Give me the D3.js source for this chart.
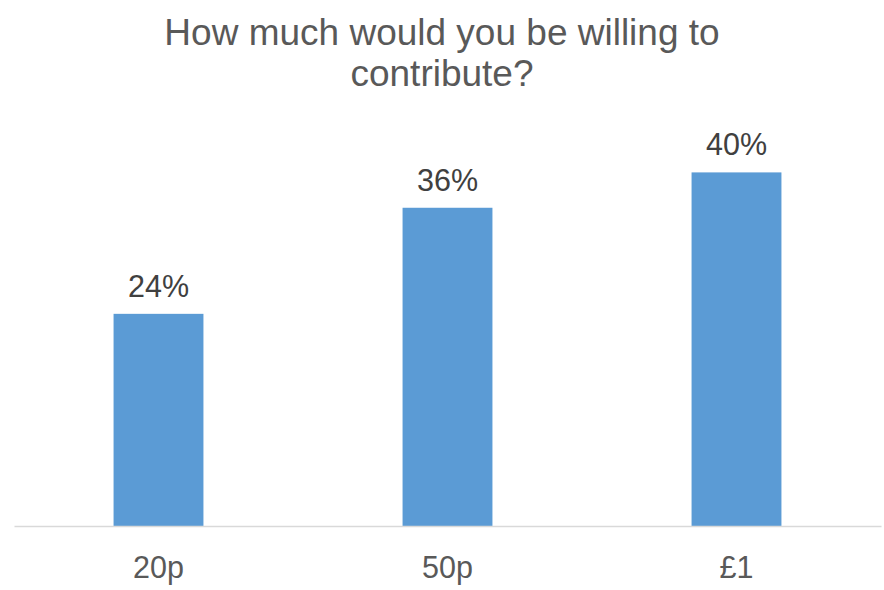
<!DOCTYPE html>
<html>
<head>
<meta charset="utf-8">
<script src="https://cdn.jsdelivr.net/npm/d3@7"></script>
<style>
  html, body { margin: 0; padding: 0; background: #ffffff; }
  svg { display: block; font-family: "Liberation Sans", Arial, sans-serif; }
</style>
</head>
<body>
<svg id="chart" width="884" height="590"></svg>
<script>
// Survey answers: share of respondents per contribution amount
const categories = ["20p", "50p", "£1"];
const shares = [24, 36, 40];
const titleLines = ["How much would you be willing to", "contribute?"];

const svg = d3.select("#chart");
const width = 884, height = 590;
const plot = { left: 14, right: 881, top: 84, bottom: 526 };

const x = d3.scaleBand()
  .domain(categories)
  .range([plot.left, plot.right])
  .paddingInner(0)
  .paddingOuter(0);

const y = d3.scaleLinear()
  .domain([0, 50])
  .range([plot.bottom, plot.top]);

const barWidth = x.bandwidth() * 0.311;

// Title
svg.append("g")
  .selectAll("text")
  .data(titleLines)
  .join("text")
  .attr("x", width / 2)
  .attr("y", (d, i) => 45 + i * 41)
  .attr("text-anchor", "middle")
  .attr("fill", "#595959")
  .attr("font-size", "37px")
  .text(d => d);

// Bars
svg.append("g")
  .selectAll("rect")
  .data(shares)
  .join("rect")
  .attr("x", (d, i) => x(categories[i]) + (x.bandwidth() - barWidth) / 2)
  .attr("y", d => y(d))
  .attr("width", barWidth)
  .attr("height", d => y(0) - y(d))
  .attr("fill", "#5B9BD5");

// Value labels
svg.append("g")
  .selectAll("text")
  .data(shares)
  .join("text")
  .attr("x", (d, i) => x(categories[i]) + x.bandwidth() / 2)
  .attr("y", d => y(d) - 17)
  .attr("text-anchor", "middle")
  .attr("fill", "#404040")
  .attr("font-size", "30.5px")
  .text(d => d + "%");

// Category axis
const xAxis = svg.append("g")
  .attr("transform", `translate(0,${plot.bottom})`)
  .call(d3.axisBottom(x).tickSize(0).tickPadding(0));
xAxis.select(".domain")
  .attr("stroke", "#d9d9d9")
  .attr("stroke-width", 1.5);
xAxis.selectAll(".tick text")
  .attr("dy", null)
  .attr("y", 52)
  .attr("fill", "#595959")
  .attr("font-size", "30.5px")
  .attr("font-family", "'Liberation Sans', Arial, sans-serif");
</script>
</body>
</html>
